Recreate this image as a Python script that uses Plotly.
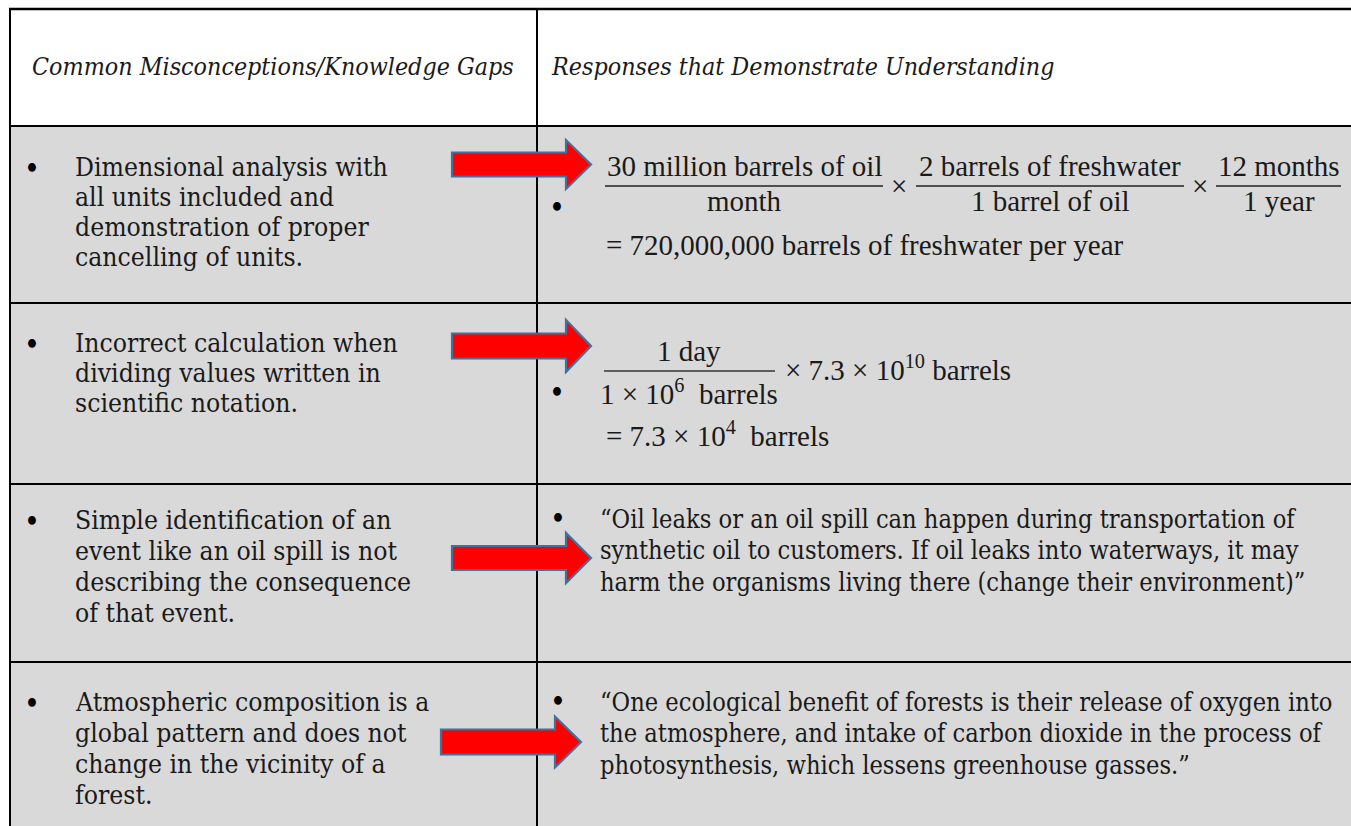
import plotly.graph_objects as go

# ---------------- content ----------------
headers = ["Common Misconceptions/Knowledge Gaps",
           "Responses that Demonstrate Understanding"]

left_cells = [
    ["Dimensional analysis with", "all units included and",
     "demonstration of proper", "cancelling of units."],
    ["Incorrect calculation when", "dividing values written in",
     "scientific notation."],
    ["Simple identification of an", "event like an oil spill is not",
     "describing the consequence", "of that event."],
    ["Atmospheric composition is a", "global pattern and does not",
     "change in the vicinity of a", "forest."],
]

right_text_row3 = ["\u201cOil leaks or an oil spill can happen during transportation of",
                   "synthetic oil to customers. If oil leaks into waterways, it may",
                   "harm the organisms living there (change their environment)\u201d"]
right_text_row4 = ["\u201cOne ecological benefit of forests is their release of oxygen into",
                   "the atmosphere, and intake of carbon dioxide in the process of",
                   "photosynthesis, which lessens greenhouse gasses.\u201d"]

f1_numerators = ["30 million barrels of oil", "2 barrels of freshwater", "12 months"]
f1_denominators = ["month", "1 barrel of oil", "1 year"]
f1_result = "= 720,000,000 barrels of freshwater per year"

f2_numerator = "1 day"
f2_denominator = "1 \u00d7 10<sup>6</sup>\u00a0\u00a0barrels"
f2_tail = "\u00d7 7.3 \u00d7 10<sup>10</sup>\u00a0barrels"
f2_result = "= 7.3 \u00d7 10<sup>4</sup>\u00a0\u00a0barrels"

# ---------------- layout geometry ----------------
W, H = 1351, 826
X_LEFT, X_DIV = 10, 537
Y_TOP = 9
ROW_EDGES = [126, 303, 484, 662]
GRAY = "#d9d9d9"
BODY_FONT = "DejaVu Serif Condensed, DejaVu Serif, serif"
MATH_FONT = "Liberation Serif, Times New Roman, serif"
TXT = "#1a1a1a"
BODY_SIZE = 26.3
RIGHT_SIZE = 25.2
HEAD_SIZE = 24.8
MATH_SIZE = 29

left_line_y = [[167, 197, 227, 257], [343, 373, 403],
               [520, 551, 582, 613], [702, 733, 764, 795]]

fig = go.Figure()
shapes = []
ann = []

# backgrounds
shapes.append(dict(type="rect", x0=X_LEFT, x1=W + 5, y0=ROW_EDGES[0], y1=H + 5,
                   fillcolor=GRAY, line=dict(width=0), layer="below"))
# borders
line_style = dict(color="black", width=2)
shapes.append(dict(type="line", x0=X_LEFT - 1, x1=W + 5, y0=Y_TOP, y1=Y_TOP,
                   line=dict(color="black", width=2.5)))
for ye in ROW_EDGES:
    shapes.append(dict(type="line", x0=X_LEFT, x1=W + 5, y0=ye, y1=ye, line=line_style))
shapes.append(dict(type="line", x0=X_LEFT, x1=X_LEFT, y0=Y_TOP, y1=H + 5, line=line_style))
shapes.append(dict(type="line", x0=X_DIV, x1=X_DIV, y0=Y_TOP, y1=H + 5, line=line_style))


def text(x, y, s, size=BODY_SIZE, family=BODY_FONT, xanchor="left", color=TXT):
    ann.append(dict(x=x, y=y, xref="x", yref="y", text=s, showarrow=False,
                    xanchor=xanchor, yanchor="middle",
                    font=dict(family=family, size=size, color=color)))


# headers
text(30, 66, "<i>" + headers[0] + "</i>", size=HEAD_SIZE)
text(549, 66, "<i>" + headers[1] + "</i>", size=HEAD_SIZE)

# left column
for lines, ys in zip(left_cells, left_line_y):
    text(32, ys[0] + 1, "\u2022", size=30, xanchor="center", color="black")
    for s, y in zip(lines, ys):
        text(73, y, s)

# right column text rows
for lines, y0 in ((right_text_row3, 519), (right_text_row4, 702)):
    text(558, y0 - 1, "\u2022", size=30, xanchor="center", color="black")
    for i, s in enumerate(lines):
        text(598, y0 + i * 31.5, s, size=RIGHT_SIZE)

# formula 1
f1_lines = [(605, 883), (916, 1184), (1216, 1341)]
for (xa, xb), num, den in zip(f1_lines, f1_numerators, f1_denominators):
    shapes.append(dict(type="line", x0=xa, x1=xb, y0=186, y1=186,
                       line=dict(color="#222", width=1.6)))
    text((xa + xb) / 2, 166, num, size=MATH_SIZE, family=MATH_FONT, xanchor="center")
    text((xa + xb) / 2, 201, den, size=MATH_SIZE, family=MATH_FONT, xanchor="center")
for xm in (899, 1200):
    text(xm, 186, "\u00d7", size=MATH_SIZE, family=MATH_FONT, xanchor="center")
text(604, 245, f1_result, size=MATH_SIZE, family=MATH_FONT)
text(557, 207, "\u2022", size=30, xanchor="center", color="black")

# formula 2
shapes.append(dict(type="line", x0=604, x1=775, y0=371, y1=371,
                   line=dict(color="#333", width=1.6)))
text(689, 351, f2_numerator, size=MATH_SIZE, family=MATH_FONT, xanchor="center")
text(689, 392, f2_denominator, size=MATH_SIZE, family=MATH_FONT, xanchor="center")
text(783, 368, f2_tail, size=MATH_SIZE, family=MATH_FONT)
text(604, 434, f2_result, size=MATH_SIZE, family=MATH_FONT)
text(557, 392, "\u2022", size=30, xanchor="center", color="black")

# arrows (block arrows)
arrows = [  # x0, head base, tip, center y, body half, head half
    (452, 566, 591, 164.5, 12, 24.5),
    (452, 566, 591, 346, 12.5, 26),
    (452, 566, 591, 558, 12, 25),
    (441, 555, 581, 742, 12.5, 25.5),
]
for x0, xh, xt, cy, bh, hh in arrows:
    path = (f"M {x0},{cy - bh} L {xh},{cy - bh} L {xh},{cy - hh} L {xt},{cy} "
            f"L {xh},{cy + hh} L {xh},{cy + bh} L {x0},{cy + bh} Z")
    shapes.append(dict(type="path", path=path, fillcolor="#ff0000",
                       line=dict(color="#41719c", width=2.2), layer="above"))

fig.update_layout(
    width=W, height=H, margin=dict(l=0, r=0, t=0, b=0),
    paper_bgcolor="white", plot_bgcolor="white",
    xaxis=dict(range=[0, W], visible=False, fixedrange=True),
    yaxis=dict(range=[H, 0], visible=False, fixedrange=True),
    shapes=shapes, annotations=ann, showlegend=False,
)

fig.write_html("out.html", config={"displayModeBar": False},
               post_script=["document.body.style.margin='0';document.body.style.overflow='hidden';"])
